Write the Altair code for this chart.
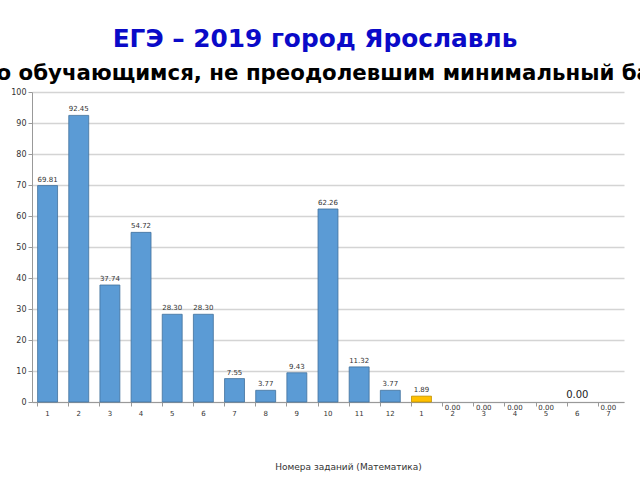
import altair as alt
import pandas as pd

title_text = "ЕГЭ – 2019 город Ярославль"
subtitle_text = "по обучающимся, не преодолевшим минимальный балл"

task_labels = ["1", "2", "3", "4", "5", "6", "7", "8", "9", "10", "11", "12",
               "1", "2", "3", "4", "5", "6", "7"]
parts = ["base"] * 12 + ["profile"] * 7
values = [69.81, 92.45, 37.74, 54.72, 28.30, 28.30, 7.55, 3.77, 9.43, 62.26, 11.32, 3.77,
          1.89, 0.00, 0.00, 0.00, 0.00, 0.00, 0.00]

keys = [f"{i:02d}_{lab}" for i, lab in enumerate(task_labels)]
df = pd.DataFrame({"key": keys, "label": task_labels, "part": parts, "value": values})

x_enc = alt.X(
    "key:N", sort=None,
    scale=alt.Scale(domain=keys, paddingInner=0.36, paddingOuter=0.18),
    axis=alt.Axis(
        title="Номера заданий (Математика)",
        titleFont="DejaVu Sans", titleFontSize=9, titleFontWeight="normal",
        titleColor="#333333", titlePadding=46, titleX=316,
        labelExpr="split(datum.label, '_')[1]", labelAngle=0,
        labelFontSize=7, labelColor="#333333", labelFont="DejaVu Sans",
        bandPosition=0, labelPadding=3,
        tickColor="#999999", tickSize=4, domainColor="#999999",
        grid=False,
    ),
)
y_enc = alt.Y(
    "value:Q",
    scale=alt.Scale(domain=[0, 100], nice=False),
    axis=alt.Axis(
        title=None, values=list(range(0, 101, 10)),
        labelFontSize=8, labelColor="#333333", labelFont="DejaVu Sans",
        tickColor="#999999", tickSize=4, domainColor="#999999",
        gridColor="#d4d4d4", gridWidth=1.5, labelPadding=2,
    ),
)

base = alt.Chart(df)

bars = base.mark_bar(strokeWidth=0.8).encode(
    x=x_enc, y=y_enc,
    color=alt.Color("part:N", scale=alt.Scale(domain=["base", "profile"],
                                              range=["#5b9bd5", "#ffc000"]), legend=None),
    stroke=alt.Stroke("part:N", scale=alt.Scale(domain=["base", "profile"],
                                                range=["#41719c", "#bf9000"]), legend=None),
).transform_filter("datum.value > 0")

lab_pos = base.mark_text(dy=-6, fontSize=7, font="DejaVu Sans", color="#333333").encode(
    x=x_enc, y=y_enc, text=alt.Text("value:Q", format=".2f")
).transform_filter("datum.value > 0")

lab_zero = base.mark_text(dy=6, fontSize=7, font="DejaVu Sans", color="#333333").encode(
    x=x_enc, y=y_enc, text=alt.Text("value:Q", format=".2f")
).transform_filter("datum.value == 0 && datum.label != '6'")

lab_six = base.mark_text(dy=-7, fontSize=10, font="DejaVu Sans", color="#222222").encode(
    x=x_enc, y=y_enc, text=alt.Text("value:Q", format=".2f")
).transform_filter("datum.value == 0 && datum.label == '6'")

tdf = pd.DataFrame({"t": [title_text]})
sdf = pd.DataFrame({"t": [subtitle_text]})

title_mark = alt.Chart(tdf).mark_text(
    font="DejaVu Sans", fontSize=24.8, fontWeight="bold", color="#0a0ac8",
    align="center", baseline="alphabetic",
).encode(text="t:N", x=alt.value(283), y=alt.value(-45))

subtitle_mark = alt.Chart(sdf).mark_text(
    font="DejaVu Sans", fontSize=21.3, fontWeight="bold", color="#000000",
    align="center", baseline="alphabetic",
).encode(text="t:N", x=alt.value(300), y=alt.value(-12))

chart = alt.layer(bars, lab_pos, lab_zero, lab_six, title_mark, subtitle_mark).properties(
    width=592, height=310,
    autosize=alt.AutoSizeParams(type="none"),
    padding={"left": 32, "top": 92, "right": 16, "bottom": 78},
).configure_view(stroke=None)

chart.save("out.html", embed_options={"renderer": "svg", "actions": False})
